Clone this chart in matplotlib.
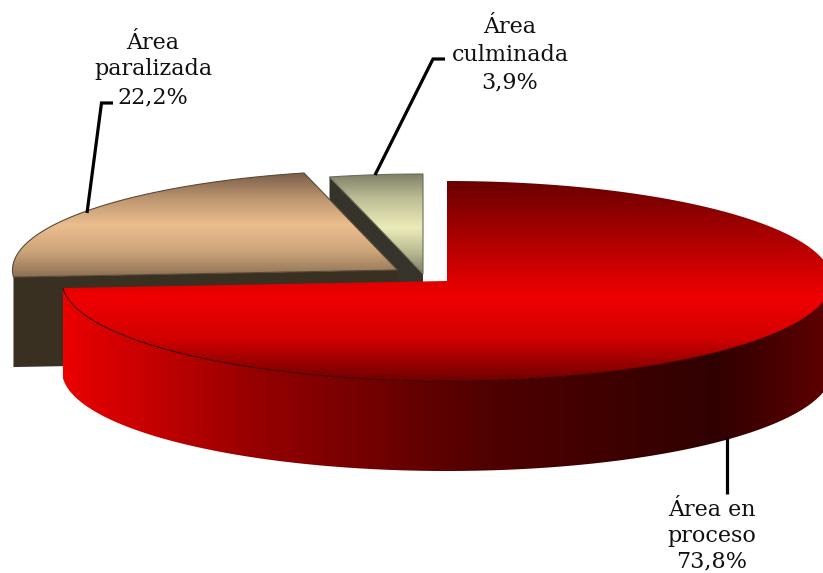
import numpy as np
import matplotlib
matplotlib.use("Agg")
import matplotlib.pyplot as plt
from matplotlib.colors import LinearSegmentedColormap
from matplotlib.patches import Polygon

# ---- data ----
categories = ["Área en\nproceso", "Área\nparalizada", "Área\nculminada"]
values = [73.8, 22.2, 3.9]
value_labels = ["73,8%", "22,2%", "3,9%"]

# ---- pie geometry (pixels) ----
apex = [(447, 281), (397.5, 270), (423, 274)]
RX, RY, DEPTH = 385, 100, 90

fig = plt.figure(figsize=(8.23, 5.73), dpi=100, facecolor="white")
ax = fig.add_axes([0, 0, 1, 1])
ax.set_xlim(0, 823)
ax.set_ylim(573, 0)
ax.axis("off")

edges = np.concatenate([[0], np.cumsum(values) / np.sum(values) * 2 * np.pi])


def arc(c, t0, t1, dy=0, n=300):
    t = np.linspace(t0, t1, n)
    return np.column_stack([c[0] + RX * np.sin(t), c[1] - RY * np.cos(t) + dy])


def rgb(*stops):
    return [(p, (r / 255, g / 255, b / 255)) for p, (r, g, b) in stops]


def grad(poly, stops, lo, hi, vertical=True, z=1):
    cmap = LinearSegmentedColormap.from_list("g", rgb(*stops), N=512)
    g = np.linspace(0, 1, 512)
    if vertical:
        arr, ext = g[:, None], (0, 823, hi, lo)
    else:
        arr, ext = g[None, :], (lo, hi, 573, 0)
    im = ax.imshow(arr, cmap=cmap, vmin=0, vmax=1, extent=ext, aspect="auto",
                   origin="upper", zorder=z, interpolation="bilinear")
    patch = Polygon(poly, closed=True, transform=ax.transData, fc="none", ec="none")
    ax.add_patch(patch)
    im.set_clip_path(patch)


def outline(poly, color, z, lw=0.8):
    ax.add_patch(Polygon(poly, closed=True, fc="none", ec=color, lw=lw, zorder=z))


# culminada
c = apex[2]
a = arc(c, edges[2], edges[3])
cut = [a[0], c, (c[0], c[1] + DEPTH), a[0] + (0, DEPTH)]
ax.add_patch(Polygon(cut, closed=True, fc="#35332a", ec="none", zorder=2))
top = np.vstack([a, [c]])
grad(top, [(0, (128, 128, 104)), (0.25, (190, 190, 150)), (0.55, (236, 236, 186)),
           (0.8, (185, 185, 145)), (1, (130, 130, 108))], 174, 272, z=3)
outline(top, "#6d6d58", 3.1)

# paralizada
c = apex[1]
a = arc(c, edges[1], edges[2])
wall = [a[0], c, (c[0], c[1] + DEPTH), a[0] + (0, DEPTH)]
ax.add_patch(Polygon(wall, closed=True, fc="#3a3022", ec="none", zorder=4))
top = np.vstack([a, [c]])
grad(top, [(0, (122, 94, 74)), (0.25, (190, 150, 112)), (0.5, (236, 190, 142)),
           (0.75, (205, 165, 122)), (1, (140, 112, 84))], 173, 277, z=5)
outline(top, "#5a4a3a", 5.1)

# en proceso
c = apex[0]
a = arc(c, edges[0], edges[1])
t_front = arc(c, np.pi / 2, edges[1])
side = np.vstack([t_front, t_front[::-1] + (0, DEPTH)])
grad(side, [(0, (236, 0, 0)), (0.25, (150, 0, 0)), (0.55, (80, 0, 0)), (0.85, (48, 0, 0)),
            (1, (95, 0, 0))], 62, 832, vertical=False, z=6)
top = np.vstack([a, [c]])
grad(top, [(0, (105, 0, 0)), (0.25, (165, 0, 0)), (0.58, (240, 0, 0)), (0.78, (212, 0, 0)),
           (1, (112, 0, 0))], 181, 381, z=7)
ax.plot(t_front[:, 0], t_front[:, 1], color="#3a0000", lw=0.7, zorder=7.1)

# ---- leader lines ----
LK = dict(color="black", lw=2.3, zorder=8, solid_joinstyle="miter", solid_capstyle="butt")
ax.plot([87, 101.5, 113], [213, 103, 103], **LK)
ax.plot([375, 433, 445], [175, 59, 59], **LK)
ax.plot([727.5, 727.5], [437, 494], **LK)

# ---- labels ----
FONT = dict(family="DejaVu Serif", fontsize=16, color="#111111", ha="center",
            va="baseline", zorder=9)
pos = [(712, (516, 542, 567)), (153, (49, 75, 103)), (510, (33, 61, 88))]
for name, val, (x, ys) in zip(categories, value_labels, pos):
    for line, y in zip(name.split("\n") + [val], ys):
        ax.text(x, y, line, **FONT)

ax.set_xlim(0, 823)
ax.set_ylim(573, 0)
fig.savefig("out.png", dpi=100, facecolor="white")
